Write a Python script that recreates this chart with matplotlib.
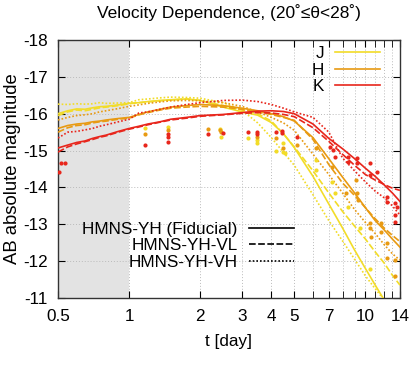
import numpy as np
import matplotlib
matplotlib.use("Agg")
import matplotlib.pyplot as plt
from matplotlib.ticker import FixedLocator, NullFormatter

plt.rcParams['font.family'] = ['Liberation Sans', 'DejaVu Sans']

# model light curves (time in days, AB absolute magnitude)
t = np.array([0.5, 0.55, 0.6, 0.65, 0.7, 0.75, 0.8, 0.9, 1.0, 1.1, 1.2, 1.35, 1.5, 1.75, 2.0, 2.5,
              3.0, 3.5, 4.0, 4.5, 5.0, 6.0, 7.0, 8.0, 9.0, 10.0, 11.0, 12.0, 13.0, 14.0])

J_fid = np.array([-16.00, -16.08, -16.13, -16.12, -16.16, -16.19, -16.20, -16.24, -16.28, -16.30, -16.33, -16.36,
                  -16.38, -16.40, -16.36, -16.18, -16.05, -15.96, -15.76, -15.46, -15.08, -14.30, -13.55,
                  -12.90, -12.30, -11.80, -11.35, -10.95, -10.6, -10.3])
J_vl = np.array([-15.95, -16.05, -16.10, -16.08, -16.12, -16.16, -16.18, -16.22, -16.27, -16.30, -16.32, -16.35,
                 -16.37, -16.40, -16.36, -16.22, -16.10, -16.00, -15.80, -15.45, -15.10, -14.45, -13.85,
                 -13.35, -12.95, -12.60, -12.25, -11.95, -11.62, -11.35])
J_vh = np.array([-16.26, -16.25, -16.27, -16.26, -16.27, -16.30, -16.28, -16.29, -16.30, -16.38, -16.40, -16.43,
                 -16.45, -16.44, -16.42, -16.30, -16.10, -15.75, -15.35, -14.95, -14.60, -13.80, -13.10,
                 -12.55, -12.05, -11.60, -11.25, -10.95, -10.6, -10.3])

H_fid = np.array([-15.60, -15.68, -15.72, -15.74, -15.78, -15.80, -15.83, -15.87, -15.90, -15.98, -16.05, -16.12,
                  -16.18, -16.22, -16.25, -16.22, -16.15, -16.08, -16.00, -15.92, -15.80, -15.35, -14.78,
                  -14.28, -13.85, -13.45, -13.10, -12.85, -12.60, -12.38])
H_vl = np.array([-15.50, -15.62, -15.68, -15.70, -15.75, -15.78, -15.80, -15.85, -15.88, -15.97, -16.03, -16.10,
                 -16.15, -16.18, -16.20, -16.18, -16.12, -16.05, -15.98, -15.90, -15.82, -15.30, -14.62,
                 -14.12, -13.78, -13.45, -13.15, -12.90, -12.70, -12.53])
H_vh = np.array([-15.83, -15.90, -15.95, -15.97, -16.00, -16.05, -16.08, -16.14, -16.20, -16.24, -16.28, -16.32,
                 -16.35, -16.36, -16.35, -16.30, -16.20, -16.05, -15.90, -15.75, -15.55, -14.90, -14.35,
                 -13.85, -13.40, -13.05, -12.75, -12.45, -12.20, -12.03])

K_fid = np.array([-15.07, -15.15, -15.22, -15.26, -15.33, -15.38, -15.42, -15.52, -15.60, -15.66, -15.72, -15.78,
                  -15.85, -15.90, -15.95, -15.98, -16.03, -16.07, -16.08, -16.06, -16.00, -15.72, -15.33,
                  -15.05, -14.78, -14.52, -14.30, -14.07, -13.85, -13.62])
K_vl = np.array([-14.96, -15.10, -15.18, -15.24, -15.30, -15.36, -15.40, -15.50, -15.58, -15.64, -15.70, -15.77,
                 -15.83, -15.88, -15.93, -15.97, -16.01, -16.03, -16.02, -15.98, -15.92, -15.62, -15.25,
                 -14.90, -14.60, -14.35, -14.20, -14.08, -13.98, -13.92])
K_vh = np.array([-15.34, -15.50, -15.52, -15.56, -15.60, -15.66, -15.70, -15.78, -15.85, -16.02, -16.05, -16.12,
                 -16.18, -16.25, -16.30, -16.36, -16.37, -16.33, -16.25, -16.15, -16.05, -15.90, -15.50,
                 -14.80, -14.45, -14.15, -13.90, -13.72, -13.50, -13.25])

# observed points
J_obs_t = np.array([1.17, 1.46, 2.42, 2.44, 3.17, 3.47, 3.47, 4.2, 4.47, 4.47, 4.55, 6.2, 6.2, 7.2, 7.4, 8.45, 9.5, 10.5])
J_obs_m = np.array([-15.61, -15.64, -15.59, -15.38, -15.34, -15.29, -15.20, -15.00, -15.20, -14.97, -14.93, -14.74,
                    -14.47, -14.16, -13.86, -13.48, -12.90, -11.79])
H_obs_t = np.array([1.17, 1.46, 2.16, 2.42, 2.45, 3.47, 4.18, 4.47, 5.13, 6.2, 7.2, 8.3, 9.1, 9.2, 9.3, 10.5, 10.5,
                    10.6, 11.6, 11.6, 12.4, 12.4, 13.4, 13.4])
H_obs_m = np.array([-15.45, -15.56, -15.59, -15.56, -15.51, -15.38, -15.34, -15.07, -15.15, -15.06, -14.56, -13.86,
                    -14.20, -13.85, -13.66, -13.03, -12.90, -12.66, -13.03, -12.80, -12.49, -12.09, -12.03, -11.60])
K_obs_t = np.array([0.503, 0.513, 0.535, 1.17, 1.46, 1.46, 1.46, 2.16, 2.49, 3.17, 3.46, 3.47, 4.18, 4.42, 4.42,
                    5.13, 7.07, 7.27, 7.42, 8.45, 8.45, 9.2, 9.2, 10.5, 10.5, 11.2, 12.4, 12.4, 13.4, 13.4,
                    13.4, 13.6])
K_obs_m = np.array([-14.42, -14.66, -14.66, -15.15, -15.45, -15.37, -15.23, -15.45, -15.48, -15.51, -15.51, -15.45,
                    -15.51, -15.54, -15.48, -15.38, -15.11, -15.02, -14.83, -14.83, -14.70, -14.80, -14.66,
                    -14.66, -14.34, -14.43, -13.75, -13.61, -13.58, -13.25, -13.07, -13.48])

bands = ['J', 'H', 'K']
colors = {'J': '#f2dc28', 'H': '#e89a12', 'K': '#e8261c'}
models = {'J': [J_fid, J_vl, J_vh], 'H': [H_fid, H_vl, H_vh], 'K': [K_fid, K_vl, K_vh]}
obs = {'J': (J_obs_t, J_obs_m), 'H': (H_obs_t, H_obs_m), 'K': (K_obs_t, K_obs_m)}
model_names = ['HMNS-YH (Fiducial)', 'HMNS-YH-VL', 'HMNS-YH-VH']
styles = ['-', (0, (4, 1.5)), (0, (1, 1.2))]

xticks = [0.5, 1, 2, 3, 4, 5, 7, 10, 14]
xminor = [6, 8, 9, 11, 12, 13]
yticks = [-18, -17, -16, -15, -14, -13, -12, -11]

fig = plt.figure(figsize=(4.16, 3.65), dpi=100)
ax = fig.add_axes([0.1394, 0.1836, 0.822, 0.7068])

ax.axvspan(0.5, 1.0, color='#e3e3e3', zorder=0, lw=0)

for b in bands:
    for m, ls in zip(models[b], styles):
        ax.plot(t, m, color=colors[b], ls=ls, lw=1.2, zorder=3)
    ax.plot(obs[b][0], obs[b][1], 'o', color=colors[b], ms=3.0, mew=0, zorder=4)

ax.set_xscale('log')
ax.set_xlim(0.5, 14)
ax.set_ylim(-11, -18)
ax.xaxis.set_major_locator(FixedLocator(xticks))
ax.set_xticklabels([str(v) for v in xticks])
ax.xaxis.set_minor_locator(FixedLocator(xminor))
ax.xaxis.set_minor_formatter(NullFormatter())
ax.set_yticks(yticks)
ax.set_yticklabels([str(v) for v in yticks])
ax.tick_params(which='both', direction='in', top=True, right=True, labelsize=12.3)
ax.tick_params(axis='x', pad=8)
ax.tick_params(axis='y', pad=7.5)
ax.tick_params(which='major', length=5)
ax.tick_params(which='minor', length=5)
ax.grid(True, which='both', axis='x', ls=(0, (1, 2)), color='#bbbbbb', lw=0.7)
ax.grid(True, which='major', axis='y', ls=(0, (1, 2)), color='#bbbbbb', lw=0.7)
for s in ax.spines.values():
    s.set_linewidth(1.0)
    s.set_color('#333333')

ax.set_xlabel('t [day]', fontsize=12.3, labelpad=7)
ax.set_ylabel('AB absolute magnitude', fontsize=13.3, labelpad=1)
ax.set_title('Velocity Dependence, (20˚≤θ<28˚)', fontsize=12.5, pad=16)

# band legend (upper right)
band_h = [ax.plot([], [], color=colors[b], lw=1.2)[0] for b in bands]
leg1 = ax.legend(band_h, bands, loc='upper right', bbox_to_anchor=(0.9415, 0.975), frameon=False,
                 markerfirst=False, fontsize=12.3, handlelength=2.65, labelspacing=0.08, handletextpad=0.6,
                 borderpad=0, borderaxespad=0)
ax.add_artist(leg1)

# model legend (lower left)
mod_h = [ax.plot([], [], color='black', ls=ls, lw=1.2)[0] for ls in styles]
ax.legend(mod_h, model_names, loc='upper right', bbox_to_anchor=(0.69, 0.295), frameon=False,
          markerfirst=False, fontsize=12.3, handlelength=2.65, labelspacing=0.08, handletextpad=0.65,
          borderpad=0, borderaxespad=0)

fig.savefig('out.png', dpi=100)
